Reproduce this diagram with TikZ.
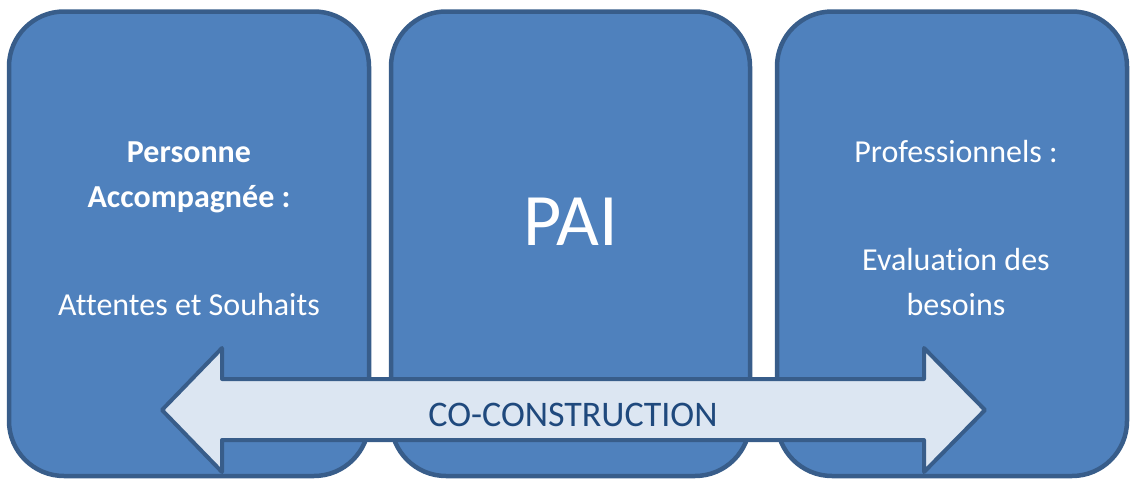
\documentclass[tikz,border=0pt]{standalone}
\usepackage{fontspec}
\setmainfont{Carlito}[Ligatures=NoCommon]
\definecolor{boxfill}{HTML}{4F81BD}
\definecolor{boxline}{HTML}{385D8A}
\definecolor{arrowfill}{HTML}{DCE6F2}
\definecolor{arrowtext}{HTML}{1F497D}
\begin{document}
\begin{tikzpicture}[x=1pt,y=-1pt,
  panel/.style={draw=boxline,fill=boxfill,line width=4.5pt,rounded corners=55pt,
    minimum height=464.5pt,inner sep=0pt},
  txt/.style={text=white,font=\fontsize{32}{38}\selectfont,anchor=base,inner sep=0pt},
  btxt/.style={txt,font=\fontsize{32}{38}\selectfont\bfseries}]
\useasboundingbox (0,0) rectangle (1130,479);
\node[panel,minimum width=360pt] (b1) at (189,243.75) {};
\node[panel,minimum width=359pt] (b2) at (570.5,243.75) {};
\node[panel,minimum width=350pt] (b3) at (952,243.75) {};
\node[btxt] (t1) at (189,162) {Personne};
\node[btxt] (t2) at (189,207) {Accompagnée :};
\node[txt] (t3) at (189,315) {Attentes et Souhaits};
\node[txt,font=\fontsize{74}{80}\selectfont] (pai) at (571,245) {PAI};
\node[txt] (p1) at (956,162) {Professionnels :};
\node[txt] (p2) at (956,270) {Evaluation des};
\node[txt] (p3) at (956,315) {besoins};
\draw[draw=boxline,fill=arrowfill,line width=4pt,line join=round]
  (162,410) -- (222,348) -- (222,379) -- (924,379) -- (924,348) -- (985,410)
  -- (924,472) -- (924,440) -- (222,440) -- (222,472) -- cycle;
\node[anchor=base,inner sep=0pt,text=arrowtext,font=\fontsize{36}{40}\selectfont] (co) at (573,426) {CO-CONSTRUCTION};
\end{tikzpicture}
\end{document}
